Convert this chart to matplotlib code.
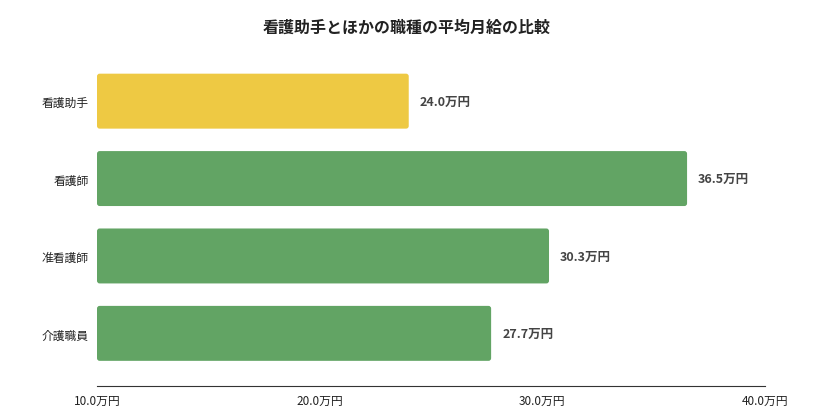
import matplotlib
matplotlib.use("Agg")
import matplotlib.pyplot as plt
from matplotlib.patches import FancyBboxPatch

plt.rcParams['font.family'] = ['Noto Sans CJK JP', 'DejaVu Sans']

categories = ["看護助手", "看護師", "准看護師", "介護職員"]
values = [24.0, 36.5, 30.3, 27.7]
colors = ["#EEC943", "#62A464", "#62A464", "#62A464"]
ticks = [10, 20, 30, 40]
tick_labels = ["10.0万円", "20.0万円", "30.0万円", "40.0万円"]

fig = plt.figure(figsize=(8.13, 4.10), dpi=100)
ax = fig.add_axes([97/813, 1-387/410, (765-97)/813, (387-65)/410])
h = 0.71
for i, (v, c) in enumerate(zip(values, colors)):
    ax.add_patch(FancyBboxPatch((10, i - h/2), v - 10, h,
                                boxstyle="round,pad=0,rounding_size=0.12",
                                mutation_aspect=1/3.5,
                                fc=c, ec="none"))
    ax.text(v + 0.5, i, f"{v:.1f}万円", va="center", ha="left",
            fontsize=9, fontweight="bold", color="#444444")
ax.set_xlim(10, 40)
ax.set_ylim(3.68, -0.48)
ax.set_yticks(range(len(categories)))
ax.set_yticklabels(categories, fontsize=8.5, color="#222222")
ax.set_xticks(ticks)
ax.set_xticklabels(tick_labels, fontsize=8.5, color="#222222")
ax.tick_params(length=0, pad=6)
for s in ["top", "right", "left"]:
    ax.spines[s].set_visible(False)
ax.spines["bottom"].set_color("#333333")
fig.text(0.5, 1-28/410, "看護助手とほかの職種の平均月給の比較", ha="center", va="center",
         fontsize=11.5, fontweight="bold", color="#222222")
fig.savefig("out.png", dpi=100)
